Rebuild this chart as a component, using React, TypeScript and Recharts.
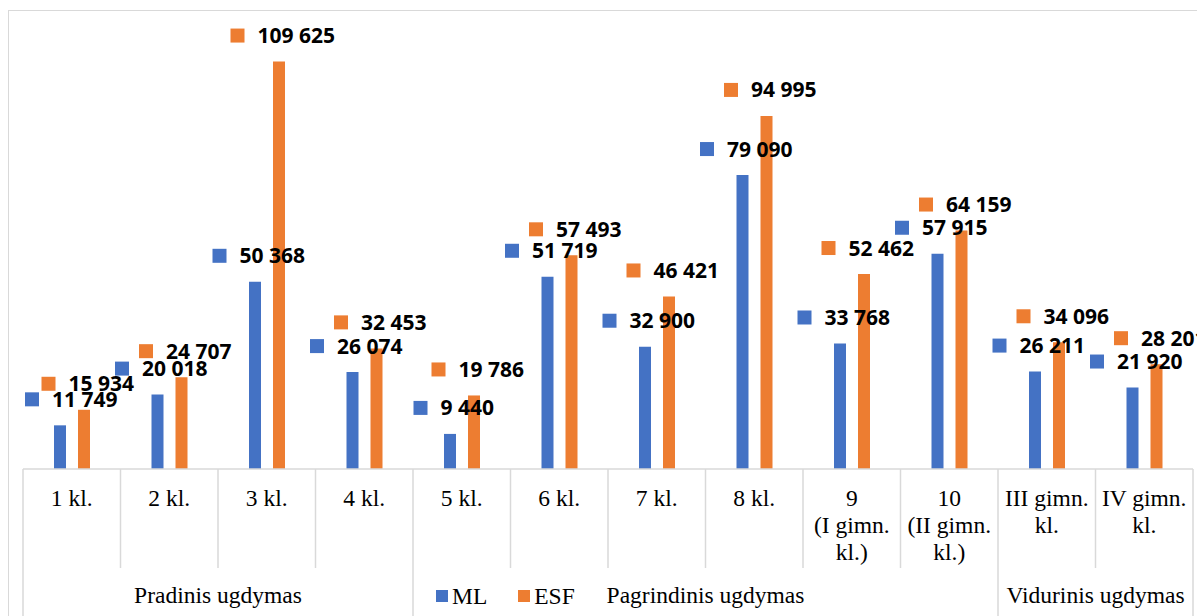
import { ComposedChart, Bar, Line, XAxis, YAxis, Legend } from 'recharts';

const categories = [
  '1 kl.',
  '2 kl.',
  '3 kl.',
  '4 kl.',
  '5 kl.',
  '6 kl.',
  '7 kl.',
  '8 kl.',
  '9\n(I gimn.\nkl.)',
  '10\n(II gimn.\nkl.)',
  'III gimn.\nkl.',
  'IV gimn.\nkl.',
];
const groups = [
  'Pradinis ugdymas',
  'Pradinis ugdymas',
  'Pradinis ugdymas',
  'Pradinis ugdymas',
  'Pagrindinis ugdymas',
  'Pagrindinis ugdymas',
  'Pagrindinis ugdymas',
  'Pagrindinis ugdymas',
  'Pagrindinis ugdymas',
  'Pagrindinis ugdymas',
  'Vidurinis ugdymas',
  'Vidurinis ugdymas',
];
const seriesNames = ['ML', 'ESF'];
const mlValues = [11749, 20018, 50368, 26074, 9440, 51719, 32900, 79090, 33768, 57915, 26211, 21920];
const esfValues = [15934, 24707, 109625, 32453, 19786, 57493, 46421, 94995, 52462, 64159, 34096, 28201];

const BLUE = '#4472C4';
const ORANGE = '#ED7D31';
const GRID = '#d9d9d9';
const SERIF = '"Liberation Serif", "Times New Roman", serif';
const SANS = '"Open Sans", "Liberation Sans", sans-serif';

const W = 1197;
const H = 616;
const MARGIN = { top: 23, right: 4, bottom: 0, left: 23 };
const AXIS_H = 147;
const BAR_SIZE = 12;
const BAR_GAP = 12;
const band = (W - MARGIN.left - MARGIN.right) / categories.length;

const data = categories.map((name, i) => ({
  name,
  group: groups[i],
  ml: mlValues[i],
  esf: esfValues[i],
}));

const fmt = (v: number) => String(v).replace(/\B(?=(\d{3})+(?!\d))/g, ' ');

// label = legend key square + bold value, above the bar
function makeLabel(color: string, shift: number) {
  return (props: any) => {
    const { x, y, value } = props;
    if (value == null) return null;
    const text = fmt(value);
    const digits = text.replace(/ /g, '').length;
    const spaces = text.length - digits;
    const textW = digits * 12 + spaces * 5.5;
    const total = 14 + 13 + textW;
    let left = x + shift + 4 - total / 2;
    left = Math.max(left, MARGIN.left + 2);
    const cy = y - 26;
    return (
      <g>
        <rect x={left} y={cy - 7} width={14} height={14} fill={color} />
        <text x={left + 27} y={cy + 7.5} fontFamily={SANS} fontWeight={700} fontSize={21} fill="#000">
          {text}
        </text>
      </g>
    );
  };
}

function CategoryTick(props: any) {
  const { x, y, payload } = props;
  const i = categories.indexOf(payload.value);
  if (i < 0) return null;
  const lines = categories[i].split('\n');
  const left = x - band / 2;
  const groupStart = i === 0 || groups[i] !== groups[i - 1];
  const count = groups.filter((g) => g === groups[i]).length;
  return (
    <g>
      <line x1={left} y1={y} x2={left} y2={groupStart ? H : y + 99} stroke={GRID} strokeWidth={1.5} />
      {i === categories.length - 1 && (
        <line x1={x + band / 2} y1={y} x2={x + band / 2} y2={H} stroke={GRID} strokeWidth={1.5} />
      )}
      {lines.map((t, k) => (
        <text key={k} x={x} y={y + 37 + k * 27} textAnchor="middle" fontFamily={SERIF} fontSize={23.5} fill="#000">
          {t}
        </text>
      ))}
      {groupStart && (
        <text x={left + (count * band) / 2} y={y + 134} textAnchor="middle" fontFamily={SERIF} fontSize={23.5} fill="#000">
          {groups[i]}
        </text>
      )}
    </g>
  );
}

const renderLegend = (props: any) => {
  const items = (props.payload || [])
    .filter((e: any) => seriesNames.includes(e.value) && e.type !== 'none')
    .sort((a: any, b: any) => seriesNames.indexOf(a.value) - seriesNames.indexOf(b.value));
  return (
    <div style={{ display: 'flex', alignItems: 'center', fontFamily: SERIF, fontSize: 23.5, lineHeight: '26px', color: '#000' }}>
      {items.map((e: any) => (
        <span key={e.value} style={{ display: 'flex', alignItems: 'center', marginRight: 31 }}>
          <span style={{ display: 'inline-block', width: 12, height: 12, background: e.color, marginRight: 4 }} />
          {e.value}
        </span>
      ))}
    </div>
  );
};

export default function App() {
  return (
    <div style={{ position: 'absolute', left: 0, top: 0, width: W, height: H, overflow: 'hidden', background: '#fff' }}>
      <div
        style={{
          position: 'absolute',
          left: 8,
          top: 10,
          width: W + 20,
          height: H + 20,
          border: `1.5px solid ${GRID}`,
        }}
      />
      <div style={{ position: 'absolute', left: 0, top: 0 }}>
        <ComposedChart width={W} height={H} data={data} margin={MARGIN} barSize={BAR_SIZE} barGap={BAR_GAP}>
          <XAxis
            dataKey="name"
            height={AXIS_H}
            interval={0}
            tickLine={false}
            tickSize={0}
            tickMargin={0}
            axisLine={{ stroke: GRID, strokeWidth: 1.5 }}
            tick={<CategoryTick />}
          />
          <YAxis hide width={0} domain={[0, 120000]} />
          <Legend
            layout="horizontal"
            verticalAlign="middle"
            align="center"
            wrapperStyle={{ left: 436, top: 583, width: 'auto', height: 'auto' }}
            content={renderLegend}
          />
          <Bar dataKey="ml" name={seriesNames[0]} fill={BLUE} isAnimationActive={false} />
          <Bar dataKey="esf" name={seriesNames[1]} fill={ORANGE} isAnimationActive={false} />
          <Line
            dataKey="ml"
            name="ml-labels"
            stroke="none"
            dot={false}
            activeDot={false}
            legendType="none"
            isAnimationActive={false}
            label={makeLabel(BLUE, -(BAR_SIZE + BAR_GAP) / 2)}
          />
          <Line
            dataKey="esf"
            name="esf-labels"
            stroke="none"
            dot={false}
            activeDot={false}
            legendType="none"
            isAnimationActive={false}
            label={makeLabel(ORANGE, (BAR_SIZE + BAR_GAP) / 2)}
          />
        </ComposedChart>
      </div>
    </div>
  );
}
